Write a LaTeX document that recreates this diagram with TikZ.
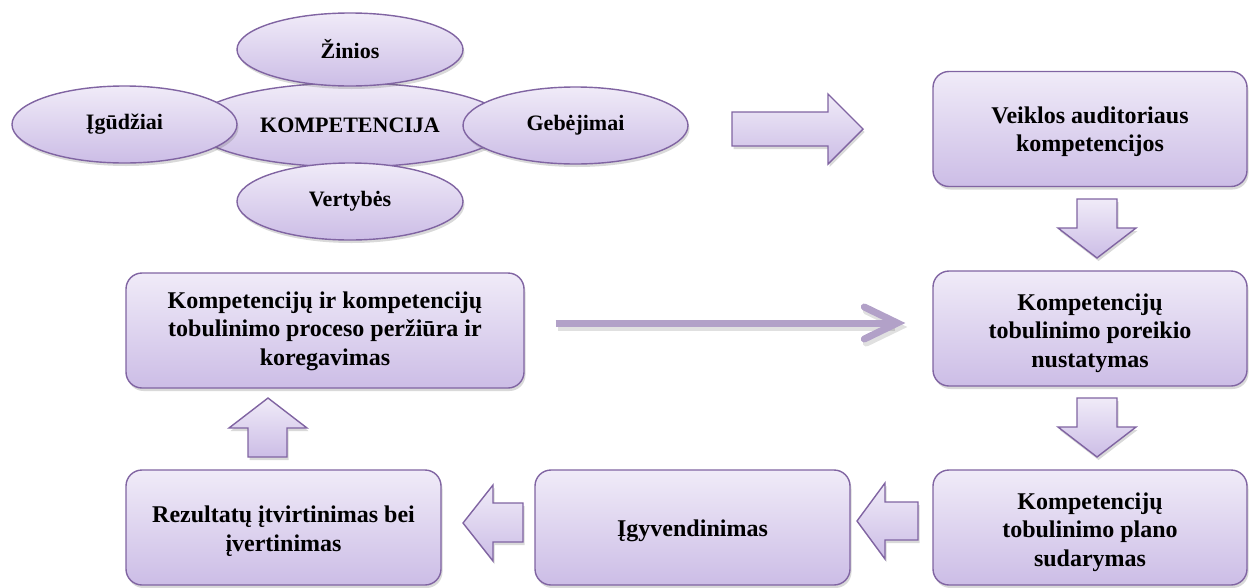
\documentclass[tikz,border=0pt]{standalone}
\usepackage{fontspec}
\setmainfont{Liberation Serif}[BoldFont={Liberation Serif Bold}]
\usetikzlibrary{shapes.geometric,shadows,calc}

\definecolor{lavtop}{RGB}{240,235,248}
\definecolor{lavbot}{RGB}{204,189,230}
\definecolor{lavedge}{RGB}{128,100,162}
\definecolor{lavline}{RGB}{178,161,200}

\tikzset{
  x=1pt, y=-1pt,
  softshadow/.style={drop shadow={shadow xshift=1.5pt, shadow yshift=-3pt, opacity=0.25, fill=black!60}},
  lavfill/.style={top color=lavtop, bottom color=lavbot, draw=lavedge, line width=1.4pt},
  oval/.style={ellipse, lavfill, softshadow, inner sep=0pt,
    font=\fontsize{22}{25}\selectfont\bfseries},
  stepbox/.style={rectangle, rounded corners=16pt, lavfill, softshadow,
    minimum height=115pt, inner sep=0pt},
  boxtext/.style={align=center, inner sep=0pt, yshift=-#1,
    font=\fontsize{24}{28.5}\selectfont\bfseries},
  boxtext/.default=4pt,
  blockarrow/.style={lavfill, softshadow, line join=miter},
  longline/.style={draw=lavline, line width=7pt},
  barb/.style={draw=lavline, line width=7pt, line cap=round, line join=miter, miter limit=10},
}

\begin{document}
\begin{tikzpicture}
\useasboundingbox (0,0) rectangle (1252,587);

% competence cluster
\node[oval, minimum width=316pt, minimum height=84pt] (komp) at (350,125) {KOMPETENCIJA};
\node[oval, minimum width=226pt, minimum height=73pt] (zin) at (350,49.5) {Žinios};
\node[oval, minimum width=225pt, minimum height=77pt] (igu) at (124.5,124.5) {Įgūdžiai};
\node[oval, minimum width=225pt, minimum height=77pt] (geb) at (575.5,125.5) {Gebėjimai};
\node[oval, minimum width=226pt, minimum height=77pt] (ver) at (350,201.5) {Vertybės};

% process boxes
\node[stepbox, minimum width=314pt,
  label={[boxtext=2.5pt]center:{Veiklos auditoriaus\\kompetencijos}}] (veik) at (1090,129) {};
\node[stepbox, minimum width=314pt,
  label={[boxtext=4.5pt]center:{Kompetencijų\\tobulinimo poreikio\\nustatymas}}] (por) at (1090,328.5) {};
\node[stepbox, minimum width=314pt,
  label={[boxtext=4.5pt]center:{Kompetencijų\\tobulinimo plano\\sudarymas}}] (plan) at (1090,527.5) {};
\node[stepbox, minimum width=315pt,
  label={[boxtext=3pt]center:{Įgyvendinimas}}] (igy) at (692.5,527.5) {};
\node[stepbox, minimum width=315pt,
  label={[boxtext=3.5pt]center:{Rezultatų įtvirtinimas bei\\įvertinimas}}] (rez) at (283.5,527.5) {};
\node[stepbox, minimum width=398pt,
  label={[boxtext=0.5pt]center:{Kompetencijų ir kompetencijų\\tobulinimo proceso peržiūra ir\\koregavimas}}] (perz) at (325,330.5) {};

% block arrows between the stages
\draw[blockarrow] (732,112) -- (828,112) -- (828,94) -- (863,129) -- (828,164) -- (828,146) -- (732,146) -- cycle;
\draw[blockarrow] (1077,199) -- (1117,199) -- (1117,228) -- (1136,228) -- (1097,258) -- (1058,228) -- (1077,228) -- cycle;
\draw[blockarrow] (1077,398) -- (1117,398) -- (1117,427) -- (1136,427) -- (1097,457) -- (1058,427) -- (1077,427) -- cycle;
\draw[blockarrow] (918,502) -- (885,502) -- (885,483) -- (857,521) -- (885,559) -- (885,540) -- (918,540) -- cycle;
\draw[blockarrow] (523,503) -- (493,503) -- (493,485) -- (463,523) -- (493,561) -- (493,542) -- (523,542) -- cycle;
\draw[blockarrow] (248,457) -- (248,428) -- (229,428) -- (268,398) -- (307,428) -- (287,428) -- (287,457) -- cycle;

% feedback arrow from the review box back to the needs assessment
\coordinate (fstart) at ([xshift=31pt]perz.east |- 0,323);
\coordinate (ftip) at ([xshift=-35pt]por.west |- 0,323);
\begin{scope}[transform canvas={xshift=2pt, yshift=-4pt}, opacity=0.12]
  \draw[longline, draw=black] (fstart) -- ($(ftip)+(-4,0)$);
  \draw[barb, draw=black] ($(ftip)+(-33,-16)$) -- (ftip) -- ($(ftip)+(-33,16)$);
\end{scope}
\draw[longline] (fstart) -- ($(ftip)+(-4,0)$);
\draw[barb] ($(ftip)+(-33,-16)$) -- (ftip) -- ($(ftip)+(-33,16)$);
\end{tikzpicture}
\end{document}
